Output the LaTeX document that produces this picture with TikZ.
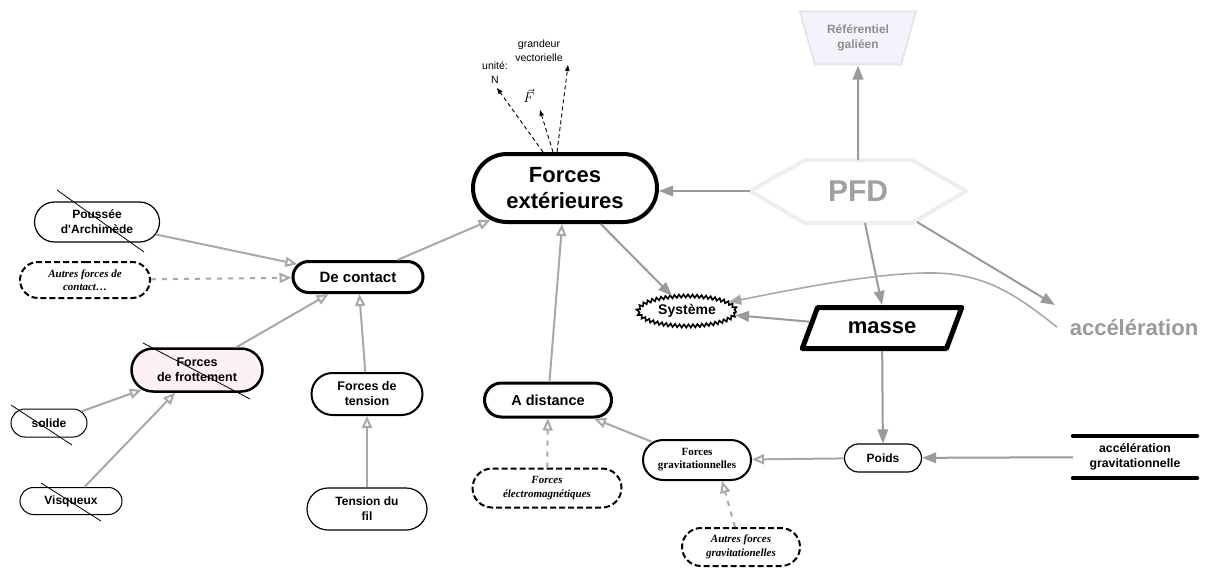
\documentclass[tikz,border=0pt]{standalone}
\usepackage{fontspec}
\setmainfont{Liberation Serif}
\setsansfont{Liberation Sans}[Ligatures=TeXOff]
\usetikzlibrary{arrows.meta,shapes.misc,shapes.geometric,decorations.pathmorphing}
\definecolor{garr}{HTML}{A8A8A8}
\definecolor{gdark}{HTML}{9A9A9A}
\definecolor{pfdborder}{HTML}{EEEEEE}
\definecolor{pfdtext}{HTML}{A0A0A0}
\definecolor{refFill}{HTML}{F4F2FB}
\definecolor{refDraw}{HTML}{E6E5EC}
\definecolor{refText}{HTML}{8E8E8E}
\definecolor{pinkfill}{HTML}{FDF0F6}
\newcommand{\fsz}[2]{\fontsize{#1}{#2}\selectfont}
\begin{document}
\begin{tikzpicture}[x=1pt,y=-1pt,
 concept/.style={rounded rectangle, draw=black, fill=white, align=center, inner sep=0pt, line width=1.2pt, font=\sffamily\bfseries\fsz{12}{15}},
 dashbox/.style={concept, dash pattern=on 6pt off 3pt, line width=2pt, font=\rmfamily\bfseries\itshape\fsz{11}{13.5}},
 oarrow/.style={draw=garr, line width=2pt, -{Triangle[open,fill=white,length=12pt,width=10pt]}},
 farrow/.style={draw=gdark, line width=2pt, -{Triangle[length=14pt,width=10.5pt]}},
 dotarrow/.style={oarrow, dash pattern=on 5pt off 6pt},
 blkarrow/.style={draw=black, line width=0.9pt, dash pattern=on 4pt off 3pt, -{Triangle[length=6pt,width=4.5pt]}},
 strike/.style={draw=black, line width=0.8pt},
 lbl/.style={font=\sffamily\fsz{10.5}{14}, align=center, inner sep=0pt}
]
\useasboundingbox (0,0) rectangle (1206,567);

% PFD hexagon
\filldraw[fill=white, draw=pfdborder, line width=4pt, line join=round]
  (750,191) -- (805,160) -- (912,160) -- (966,191) -- (912,223) -- (805,223) -- cycle;
\node[font=\sffamily\bfseries\fsz{30}{34}, text=pfdtext] (pfd) at (858,191) {PFD};
\coordinate (pfdW) at (750,191);
\coordinate (pfdN) at (858,160);
\coordinate (pfdS) at (865,223);
\coordinate (pfdSE) at (917,222);
\coordinate (acctip) at (1055,305);
\coordinate (acccurve) at (1057,327);

% nodes
\node[concept, line width=4pt, minimum width=184pt, minimum height=68pt, font=\sffamily\bfseries\fsz{22}{26}] (fe) at (565,188) {Forces\\extérieures};
\node[trapezium, shape border rotate=180, trapezium left angle=68, trapezium right angle=68, trapezium stretches=true, minimum width=116pt, minimum height=53pt, inner sep=0pt, fill=refFill, draw=refDraw, line width=2pt, align=center, text=refText, font=\sffamily\bfseries\fsz{12}{15}] (ref) at (858,38) {Référentiel\\galiéen};
\node[ellipse, draw=black, fill=white, line width=1.6pt, minimum width=98pt, minimum height=30pt, inner sep=0pt, decorate, decoration={zigzag, segment length=4.5pt, amplitude=1.6pt}, font=\sffamily\bfseries\fsz{14}{16}] (sys) at (687,311) {Système};
\node[trapezium, trapezium left angle=56, trapezium right angle=124, trapezium stretches=true, minimum width=161pt, minimum height=41pt, inner sep=0pt, draw=black, fill=white, line width=5pt, line join=round, font=\sffamily\bfseries\fsz{22}{24}] (masse) at (882,328) {masse};
\node[font=\sffamily\bfseries\fsz{22}{24}, text=gdark, inner sep=0pt] (acc) at (1134,328) {accélération};
\node[concept, minimum width=77pt, minimum height=28pt] (poids) at (883,458) {Poids};
\node[font=\sffamily\bfseries\fsz{12.3}{15}, align=center, minimum width=124pt, minimum height=42pt, inner sep=0pt] (accg) at (1135,457) {accélération\\gravitationnelle};
\node[concept, line width=2pt, minimum width=108pt, minimum height=40pt, font=\rmfamily\bfseries\fsz{11}{13}] (fg) at (697,460) {Forces\\gravitationnelles};
\node[concept, line width=3pt, minimum width=127pt, minimum height=34pt, font=\sffamily\bfseries\fsz{14.5}{16}] (ad) at (548,400) {A distance};
\node[dashbox, minimum width=149pt, minimum height=39pt] (fem) at (547,488) {Forces\\électromagnétiques};
\node[dashbox, minimum width=118pt, minimum height=38pt] (afg) at (741,547) {Autres forces\\gravitationelles};
\node[concept, line width=3pt, minimum width=130pt, minimum height=31pt, font=\sffamily\bfseries\fsz{15}{17}] (dc) at (358,277) {De contact};
\node[concept, minimum width=125pt, minimum height=40pt] (pa) at (97,222) {Poussée\\d'Archimède};
\node[dashbox, minimum width=130pt, minimum height=36pt] (afc) at (85,280) {Autres forces de\\contact…};
\node[concept, line width=2.5pt, fill=pinkfill, minimum width=131pt, minimum height=43pt, font=\sffamily\bfseries\fsz{12.5}{15}] (ff) at (197,370) {Forces\\de frottement};
\node[concept, line width=1pt, minimum width=76pt, minimum height=28pt] (sol) at (49,423) {solide};
\node[concept, line width=1pt, minimum width=102pt, minimum height=27pt] (vis) at (71,501) {Visqueux};
\node[concept, line width=2pt, minimum width=111pt, minimum height=42pt, font=\sffamily\bfseries\fsz{12.5}{15}] (ft) at (367,394) {Forces de\\tension};
\node[concept, minimum width=120pt, minimum height=42pt] (tf) at (367,509) {Tension du\\fil};

% labels on top
\node[lbl] (unite) at (495,73) {unité:\\N};
\node[font=\fsz{14}{16}, inner sep=0pt] (vecF) at (529,96) {$\vec{F}$};
\node[lbl] (gv) at (539,51) {grandeur\\vectorielle};
\coordinate (untip) at (497,88);
\coordinate (ftip) at (540,110);
\coordinate (gvtip) at (568,65);

\draw[blkarrow] ([xshift=-22pt]fe.north) -- (untip);
\draw[blkarrow] ([xshift=-12pt]fe.north) -- (ftip);
\draw[blkarrow] ([xshift=-8pt]fe.north) -- (gvtip);

% thick bars of accg
\draw[line width=4pt, line cap=round] (accg.north west) -- (accg.north east);
\draw[line width=4pt, line cap=round] (accg.south west) -- (accg.south east);

% filled arrows
\draw[farrow] (pfdW) -- (pfdW -| fe.east);
\draw[farrow] (pfdN) -- (ref.south);
\draw[farrow] (pfdS) -- (masse.north);
\draw[farrow] (pfdSE) -- (acctip);
\draw[farrow] (fe) -- (sys);
\draw[farrow] (masse) -- (sys);
\draw[farrow] (masse) -- (poids);
\draw[farrow] (accg) -- (poids);
\draw[draw=garr, line width=1.6pt, -{Triangle[length=13pt,width=10pt]}]
  (acccurve) .. controls (1022,300) and (990,274) .. (935,273)
  .. controls (880,272) and (800,288) .. (sys.12);

% open arrows
\draw[oarrow] (poids) -- (fg);
\draw[oarrow] (fg) -- (ad);
\draw[oarrow] (ad) -- (fe);
\draw[oarrow] (dc) -- (fe);
\draw[oarrow] (pa) -- (dc);
\draw[oarrow] (ff) -- (dc);
\draw[oarrow] (ft) -- (dc);
\draw[oarrow] (tf) -- (ft);
\draw[oarrow] (sol) -- (ff);
\draw[oarrow] (vis) -- (ff);
\draw[dotarrow] (afc) -- (dc);
\draw[dotarrow] (fem) -- (ad);
\draw[dotarrow] ([xshift=-6pt]afg.north) -- ([xshift=25pt]fg.south);

% strike-through lines
\draw[strike] (57,190) -- (144,252);
\draw[strike] (143,343) -- (250,399);
\draw[strike] (11,405) -- (72,445);
\draw[strike] (41,483) -- (101,521);
\end{tikzpicture}
\end{document}
